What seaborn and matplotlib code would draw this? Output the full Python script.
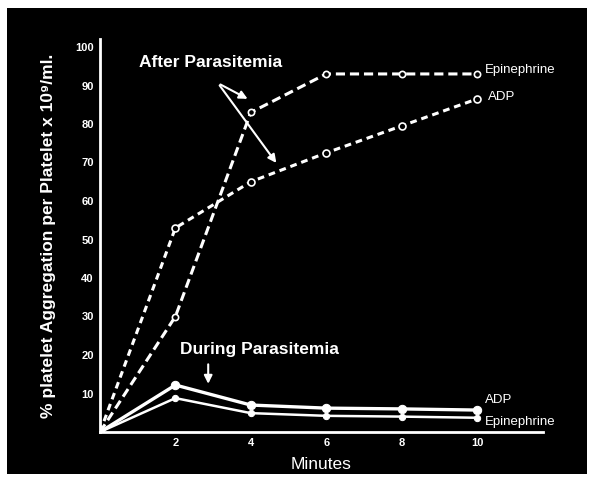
import matplotlib
matplotlib.use("Agg")
import matplotlib.pyplot as plt
from matplotlib.patches import Rectangle
import seaborn as sns
import pandas as pd

minutes = [0, 2, 4, 6, 8, 10]
after_epinephrine = [0, 30, 83, 93, 93, 93]
after_adp = [0, 53, 65, 72.5, 79.5, 86.5]
during_adp = [0, 12.2, 7.0, 6.2, 6.0, 5.7]
during_epinephrine = [0, 8.8, 4.9, 4.2, 4.0, 3.7]
x_ticks = [2, 4, 6, 8, 10]
y_ticks = [10, 20, 30, 40, 50, 60, 70, 80, 90, 100]

sns.set_theme(style="white")
plt.rcParams['font.family'] = ['Liberation Sans', 'DejaVu Sans']

fig = plt.figure(figsize=(5.89, 4.8), dpi=100)
fig.patch.set_facecolor("white")
bg = Rectangle((7/589, 6/480), 580/589, 466/480, transform=fig.transFigure,
               facecolor="black", edgecolor="none", zorder=-10)
fig.patches.append(bg)

ax = fig.add_axes([100/589, 48/480, 443/589, 392.7/480])
ax.set_zorder(1)
ax.patch.set_alpha(0)

def df(vals):
    return pd.DataFrame({"minute": minutes, "value": vals})

sns.lineplot(data=df(after_epinephrine), x="minute", y="value", ax=ax, color="white",
             linewidth=2.2, linestyle=(0, (3, 1.6)), marker="o", markersize=4.5,
             markerfacecolor="black", markeredgecolor="white", markeredgewidth=1.2)
sns.lineplot(data=df(after_adp), x="minute", y="value", ax=ax, color="white",
             linewidth=2.2, linestyle=(0, (2.2, 1.6)), marker="o", markersize=5,
             markerfacecolor="black", markeredgecolor="white", markeredgewidth=1.2)
sns.lineplot(data=df(during_adp), x="minute", y="value", ax=ax, color="white",
             linewidth=2.4, marker="o", markersize=6, markerfacecolor="white",
             markeredgecolor="white")
sns.lineplot(data=df(during_epinephrine), x="minute", y="value", ax=ax, color="white",
             linewidth=1.8, marker="o", markersize=4.5, markerfacecolor="white",
             markeredgecolor="white")

ax.set_xlim(0, 11.75)
ax.set_ylim(0, 102)
for s in ["top", "right"]:
    ax.spines[s].set_visible(False)
for s in ["left", "bottom"]:
    ax.spines[s].set_color("white")
    ax.spines[s].set_linewidth(2)
ax.set_xticks(x_ticks)
ax.set_yticks(y_ticks)
ax.tick_params(colors="white", length=3, width=2, direction="inout", labelsize=8, pad=3)
for lab in ax.get_xticklabels() + ax.get_yticklabels():
    lab.set_fontweight("bold")
    lab.set_color("white")

ax.set_xlabel("Minutes", color="white", fontsize=12.5, labelpad=6)
ax.set_ylabel("% platelet Aggregation per Platelet x 10\u2079/ml.", color="white",
              fontsize=12.5, fontweight="bold", labelpad=14)

ax.text(2.92, 96, "After Parasitemia", color="white", fontsize=12.5, fontweight="bold",
        ha="center", va="center")
ax.annotate("", xy=(3.98, 86.2), xytext=(3.13, 90.6),
            arrowprops=dict(arrowstyle="-|>", color="white", lw=1.5))
ax.annotate("", xy=(4.72, 69.3), xytext=(3.13, 90.6),
            arrowprops=dict(arrowstyle="-|>", color="white", lw=1.5))
ax.text(4.24, 21.3, "During Parasitemia", color="white", fontsize=12.5, fontweight="bold",
        ha="center", va="center")
ax.annotate("", xy=(2.87, 11.8), xytext=(2.87, 18.3),
            arrowprops=dict(arrowstyle="-|>", color="white", lw=1.5))

ax.text(10.2, 94, "Epinephrine", color="white", fontsize=9.5, va="center", ha="left")
ax.text(10.28, 87, "ADP", color="white", fontsize=9.5, va="center", ha="left")
ax.text(10.2, 8.3, "ADP", color="white", fontsize=9.5, va="center", ha="left")
ax.text(10.22, 2.7, "Epinephrine", color="white", fontsize=9.5, va="center", ha="left")

fig.savefig("out.png", dpi=100, facecolor=fig.get_facecolor())
